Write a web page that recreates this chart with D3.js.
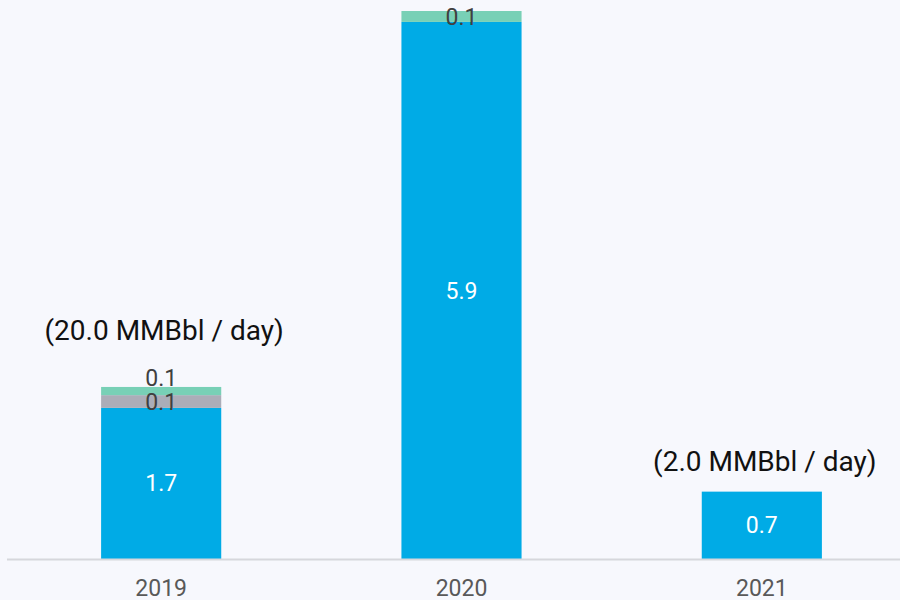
<!DOCTYPE html>
<html>
<head>
<meta charset="utf-8">
<script src="https://cdn.jsdelivr.net/npm/d3@7"></script>
<style>
  html, body { margin: 0; padding: 0; background: #f7f8fd; }
  svg { display: block; font-family: Roboto, "Noto Sans", sans-serif; }
</style>
</head>
<body>
<div id="grafico"></div>
<script>
// Datos del gráfico
const years = ["2019", "2020", "2021"];
const blueValues = [1.66, 5.9, 0.74];
const grayValues = [0.14, 0, 0];
const tealValues = [0.09, 0.12, 0];
const notes = ["(20.0 MMBbl / day)", "", "(2.0 MMBbl / day)"];
const noteOffsets = [47, 0, 21];

const width = 900, height = 600;
const svg = d3.select("#grafico")
    .append("svg")
    .attr("width", width)
    .attr("height", height);

svg.append("rect")
    .attr("width", width)
    .attr("height", height)
    .attr("fill", "#f7f8fd");

const xScale = d3.scaleBand()
    .domain(years)
    .range([11, 912])
    .paddingInner(0.6)
    .paddingOuter(0.3);

const yScale = d3.scaleLinear()
    .domain([0, 6.02])
    .range([559, 11]);

// Series apiladas
const series = [
    { name: "blue", values: blueValues, color: "#00abe6", text: "#ffffff" },
    { name: "gray", values: grayValues, color: "#abadb8", text: "#404040" },
    { name: "teal", values: tealValues, color: "#78d0b6", text: "#404040" }
];

const rows = years.map((y, i) => {
    const row = { year: y };
    series.forEach(s => row[s.name] = s.values[i]);
    return row;
});

const stack = d3.stack().keys(series.map(s => s.name));
const stacked = stack(rows);

stacked.forEach((layer, li) => {
    const s = series[li];
    svg.append("g").selectAll("rect")
        .data(layer.filter(d => d[1] - d[0] > 0))
        .enter()
        .append("rect")
        .attr("x", d => xScale(d.data.year))
        .attr("y", d => yScale(d[1]))
        .attr("width", xScale.bandwidth())
        .attr("height", d => yScale(d[0]) - yScale(d[1]))
        .attr("fill", s.color);
});

// Etiquetas de valores; si chocan con la de abajo se suben encima del tramo
const lastLabelY = {};
stacked.forEach((layer, li) => {
    const s = series[li];
    layer.forEach(d => {
        if (d[1] - d[0] <= 0) return;
        const yr = d.data.year;
        let y = (yScale(d[0]) + yScale(d[1])) / 2;
        if (lastLabelY[yr] !== undefined && lastLabelY[yr] - y < 20) {
            y = yScale(d[1]) - 9;
        }
        lastLabelY[yr] = y;
        svg.append("text")
            .attr("x", xScale(yr) + xScale.bandwidth() / 2)
            .attr("y", y)
            .attr("dy", "0.35em")
            .attr("text-anchor", "middle")
            .attr("font-size", 23)
            .attr("fill", s.text)
            .text(d3.format(".1f")(d[1] - d[0]));
    });
});

// Eje X
svg.append("line")
    .attr("x1", 7)
    .attr("x2", width)
    .attr("y1", yScale(0) + 0.5)
    .attr("y2", yScale(0) + 0.5)
    .attr("stroke", "#d6d7dc")
    .attr("stroke-width", 2);

svg.append("g").selectAll("text")
    .data(years)
    .enter()
    .append("text")
    .attr("x", d => xScale(d) + xScale.bandwidth() / 2)
    .attr("y", 596)
    .attr("text-anchor", "middle")
    .attr("font-size", 23)
    .attr("fill", "#595959")
    .text(d => d);

// Notas sobre las barras
const totals = stacked[stacked.length - 1];
svg.append("g").selectAll("text")
    .data(years.map((y, i) => ({ year: y, note: notes[i], top: totals[i][1], off: noteOffsets[i] })).filter(d => d.note))
    .enter()
    .append("text")
    .attr("x", d => xScale(d.year) + xScale.bandwidth() / 2 + 3)
    .attr("y", d => yScale(d.top) - d.off)
    .attr("text-anchor", "middle")
    .attr("font-size", 28)
    .attr("fill", "#111111")
    .text(d => d.note);
</script>
</body>
</html>
